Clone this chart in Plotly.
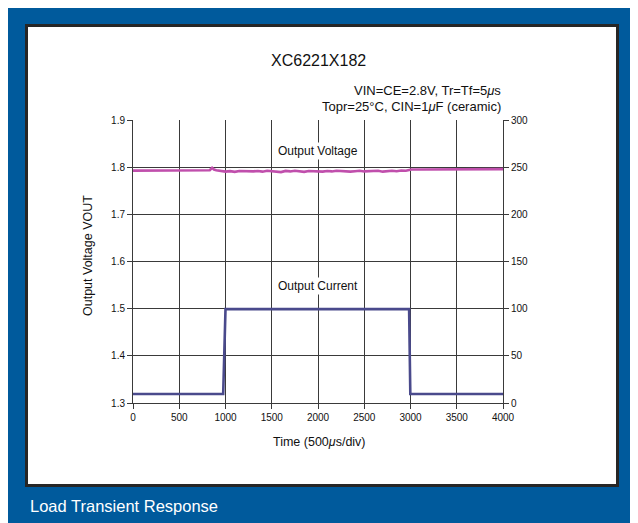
import plotly.graph_objects as go

# ---- data ----
time_v = [0, 800, 830, 855, 875, 900, 950, 1000, 1050, 1100, 1150, 1200, 1250, 1300,
          1350, 1400, 1450, 1500, 1550, 1600, 1650, 1700, 1750, 1800, 1850, 1900,
          1950, 2000, 2050, 2100, 2150, 2200, 2250, 2300, 2350, 2400, 2450, 2500,
          2550, 2600, 2650, 2700, 2750, 2800, 2850, 2900, 2950, 2990, 3010, 3100,
          3500, 3600, 3690, 3700, 3720, 4000]
vout = [1.7927, 1.7927, 1.7935, 1.7985, 1.7950, 1.7935, 1.7925, 1.7905, 1.7915, 1.7900,
        1.7920, 1.7915, 1.7925, 1.7910, 1.7920, 1.7905, 1.7925, 1.7915, 1.7920, 1.7895,
        1.7920, 1.7910, 1.7925, 1.7915, 1.7900, 1.7920, 1.7915, 1.7925, 1.7905, 1.7920,
        1.7910, 1.7925, 1.7915, 1.7920, 1.7905, 1.7915, 1.7925, 1.7910, 1.7920, 1.7915,
        1.7925, 1.7905, 1.7920, 1.7925, 1.7915, 1.7930, 1.7925, 1.7945, 1.7950, 1.7950,
        1.7950, 1.7952, 1.7955, 1.7965, 1.7958, 1.7958]

time_i = [0, 975, 1000, 2985, 2998, 4000]
iout = [9.5, 9.5, 99.5, 99.5, 9.5, 9.5]

x_ticks = [0, 500, 1000, 1500, 2000, 2500, 3000, 3500, 4000]
v_ticks = [1.3, 1.4, 1.5, 1.6, 1.7, 1.8, 1.9]
i_ticks = [0, 50, 100, 150, 200, 250, 300]

title = "XC6221X182"
cond1 = "VIN=CE=2.8V, Tr=Tf=5<i>μ</i>s"
cond2 = "Topr=25°C, CIN=1<i>μ</i>F (ceramic)"
caption = "Load Transient Response"

# ---- layout geometry (reference window pixels; page body adds an 8px offset) ----
OFF = 8
W, H = 628, 515
PL, PR, PT, PB = 133, 503, 120, 403


def px(x):
    return (x - PL) / (PR - PL)


def py(y):
    return (PB - y) / (PB - PT)


FONT = "Liberation Sans, Arial, Helvetica, sans-serif"
BLUE = "#005a9c"
GRID = "#3a3a3a"

fig = go.Figure()
fig.add_trace(go.Scatter(x=time_v, y=vout, mode="lines",
                         line=dict(color="#c04fac", width=2.6), yaxis="y",
                         showlegend=False, hoverinfo="skip"))
fig.add_trace(go.Scatter(x=time_i, y=iout, mode="lines",
                         line=dict(color="#4a4a8c", width=2.6), yaxis="y2",
                         showlegend=False, hoverinfo="skip"))

shapes = [
    dict(type="rect", xref="paper", yref="paper", layer="below",
         x0=px(26.5), x1=px(617.5), y0=py(485.5), y1=py(25.5),
         fillcolor="white", line=dict(color="#262626", width=3)),
]

annotations = [
    dict(text=title, x=0.5, y=py(60), xref="paper", yref="paper", showarrow=False,
         xanchor="center", yanchor="middle", font=dict(size=16, color="#111", family=FONT)),
    dict(text=cond1, x=1.0, y=py(91), xref="paper", yref="paper", showarrow=False,
         xanchor="right", yanchor="middle", font=dict(size=13, color="#111", family=FONT)),
    dict(text=cond2, x=1.0, y=py(107), xref="paper", yref="paper", showarrow=False,
         xanchor="right", yanchor="middle", font=dict(size=13, color="#111", family=FONT)),
    dict(text="Output Voltage", x=2000, y=1.834, xref="x", yref="y", showarrow=False,
         xanchor="center", yanchor="middle", bgcolor="white",
         font=dict(size=12, color="#111", family=FONT)),
    dict(text="Output Current", x=2000, y=1.548, xref="x", yref="y", showarrow=False,
         xanchor="center", yanchor="middle", bgcolor="white",
         font=dict(size=12, color="#111", family=FONT)),
    dict(text="Output Voltage VOUT", x=px(88), y=py(256), xref="paper", yref="paper",
         showarrow=False, textangle=-90, xanchor="center", yanchor="middle",
         font=dict(size=12.5, color="#111", family=FONT)),
    dict(text="Time (500<i>μ</i>s/div)", x=px(319), y=py(442), xref="paper", yref="paper",
         showarrow=False, xanchor="center", yanchor="middle",
         font=dict(size=12.5, color="#111", family=FONT)),
    dict(text=caption, x=px(28), y=py(506), xref="paper", yref="paper",
         showarrow=False, xanchor="left", yanchor="middle",
         font=dict(size=16.5, color="white", family=FONT)),
]

fig.update_layout(
    width=W, height=H,
    margin=dict(l=PL - OFF, r=W - (PR - OFF), t=PT - OFF, b=H - (PB - OFF), pad=0),
    paper_bgcolor=BLUE, plot_bgcolor="rgba(0,0,0,0)",
    font=dict(family=FONT, size=12, color="#111"),
    shapes=shapes, annotations=annotations,
    xaxis=dict(range=[0, 4000], tickvals=x_ticks, ticks="outside", ticklen=5,
               tickcolor=GRID, showline=True, linecolor=GRID, linewidth=1,
               showgrid=True, gridcolor=GRID, gridwidth=1, zeroline=False,
               tickfont=dict(size=10, color="#111", family=FONT)),
    yaxis=dict(range=[1.3, 1.9], tickvals=v_ticks, tickformat=".1f", ticks="outside",
               ticklen=5, tickcolor=GRID, showline=True, linecolor=GRID, linewidth=1,
               showgrid=True, gridcolor=GRID, gridwidth=1, zeroline=False,
               tickfont=dict(size=10, color="#111", family=FONT)),
    yaxis2=dict(range=[0, 300], tickvals=i_ticks, overlaying="y", side="right",
                ticks="outside", ticklen=5, tickcolor=GRID, showline=True,
                linecolor=GRID, linewidth=1, showgrid=False, zeroline=False,
                tickfont=dict(size=10, color="#111", family=FONT)),
)

fig.write_html("out.html")
